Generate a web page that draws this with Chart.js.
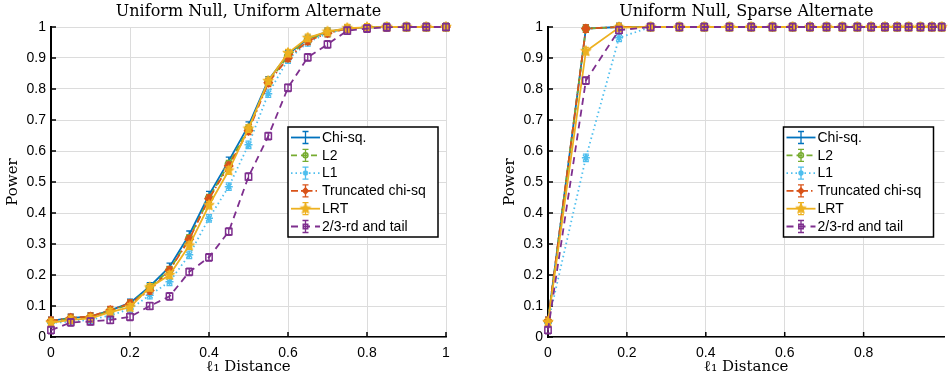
<!DOCTYPE html>
<html>
<head>
<meta charset="utf-8">
<script src="https://cdn.jsdelivr.net/npm/chart.js@4"></script>
<style>
  body { margin: 0; background: #fff; width: 951px; height: 380px; overflow: hidden; position: relative; }
  canvas { position: absolute; top: 0; }
  #left { left: 0; }
  #right { left: 475px; }
</style>
</head>
<body>
<canvas id="left" width="475" height="380"></canvas>
<canvas id="right" width="476" height="380"></canvas>
<script>
// series names (same for both panels)
const seriesNames = ['Chi-sq.', 'L2', 'L1', 'Truncated chi-sq', 'LRT', '2/3-rd and tail'];

// --- left panel: uniform null, uniform alternate ---
const distUniform  = [0, 0.05, 0.1, 0.15, 0.2, 0.25, 0.3, 0.35, 0.4, 0.45, 0.5, 0.55, 0.6, 0.65, 0.7, 0.75, 0.8, 0.85, 0.9, 0.95, 1];
const chiUniform   = [0.052, 0.062, 0.066, 0.086, 0.11, 0.163, 0.226, 0.33, 0.458, 0.568, 0.682, 0.828, 0.912, 0.962, 0.985, 0.995, 0.999, 1, 1, 1, 1];
const l2Uniform    = [0.05, 0.06, 0.064, 0.084, 0.106, 0.16, 0.216, 0.318, 0.448, 0.558, 0.672, 0.822, 0.906, 0.958, 0.983, 0.995, 0.999, 1, 1, 1, 1];
const l1Uniform    = [0.045, 0.05, 0.055, 0.07, 0.09, 0.135, 0.178, 0.265, 0.383, 0.485, 0.62, 0.785, 0.895, 0.95, 0.98, 0.994, 0.999, 1, 1, 1, 1];
const truncUniform = [0.052, 0.062, 0.066, 0.087, 0.108, 0.15, 0.215, 0.315, 0.446, 0.552, 0.665, 0.82, 0.9, 0.955, 0.98, 0.995, 0.999, 1, 1, 1, 1];
const lrtUniform   = [0.046, 0.055, 0.06, 0.08, 0.096, 0.16, 0.2, 0.295, 0.425, 0.537, 0.672, 0.826, 0.916, 0.965, 0.985, 0.996, 0.999, 1, 1, 1, 1];
const tailUniform  = [0.022, 0.047, 0.05, 0.055, 0.065, 0.1, 0.131, 0.21, 0.257, 0.34, 0.517, 0.648, 0.804, 0.902, 0.944, 0.988, 0.995, 0.999, 1, 1, 1];

// --- right panel: uniform null, sparse alternate ---
const distSparse  = [0, 0.096, 0.18, 0.26, 0.333, 0.396, 0.46, 0.515, 0.569, 0.62, 0.664, 0.706, 0.746, 0.784, 0.819, 0.854, 0.885, 0.914, 0.944, 0.973, 0.998];
const chiSparse   = [0.052, 0.995, 1, 1, 1, 1, 1, 1, 1, 1, 1, 1, 1, 1, 1, 1, 1, 1, 1, 1, 1];
const l2Sparse    = [0.05, 0.995, 1, 1, 1, 1, 1, 1, 1, 1, 1, 1, 1, 1, 1, 1, 1, 1, 1, 1, 1];
const l1Sparse    = [0.045, 0.578, 0.965, 1, 1, 1, 1, 1, 1, 1, 1, 1, 1, 1, 1, 1, 1, 1, 1, 1, 1];
const truncSparse = [0.052, 0.995, 1, 1, 1, 1, 1, 1, 1, 1, 1, 1, 1, 1, 1, 1, 1, 1, 1, 1, 1];
const lrtSparse   = [0.048, 0.922, 0.998, 1, 1, 1, 1, 1, 1, 1, 1, 1, 1, 1, 1, 1, 1, 1, 1, 1, 1];
const tailSparse  = [0.022, 0.827, 0.99, 1, 1, 1, 1, 1, 1, 1, 1, 1, 1, 1, 1, 1, 1, 1, 1, 1, 1];

const yTicksStep = 0.1;
const xTicksStep = 0.2;
const errHalf = 0.012;   // half height of the error bars

// styles
const colors = ['#0072BD', '#77AC30', '#4DBEEE', '#D95319', '#EDB120', '#7E2F8E'];
const dashes = [[], [6, 4], [1.5, 3], [7, 3, 1.5, 3], [], [7, 5]];

function starMarker(color, r) {
  const c = document.createElement('canvas');
  const s = Math.ceil(r * 2 + 3);
  c.width = s; c.height = s;
  const g = c.getContext('2d');
  g.beginPath();
  for (let i = 0; i < 10; i++) {
    const rad = i % 2 ? r * 0.45 : r;
    const a = -Math.PI / 2 + i * Math.PI / 5;
    g.lineTo(s / 2 + rad * Math.cos(a), s / 2 + rad * Math.sin(a));
  }
  g.closePath();
  g.fillStyle = color; g.fill();
  g.strokeStyle = color; g.lineWidth = 1; g.stroke();
  return c;
}

const markers = [
  { pointStyle: 'circle', radius: 0, fill: 'transparent' },
  { pointStyle: 'circle', radius: 3.5, fill: 'transparent' },
  { pointStyle: 'star', radius: 4, fill: colors[2] },
  { pointStyle: 'rectRot', radius: 4, fill: colors[3] },
  { pointStyle: starMarker(colors[4], 5.5), radius: 5, fill: colors[4] },
  { pointStyle: 'rect', radius: 4.5, fill: 'transparent' }
];

const tickFont = { family: 'Liberation Sans', size: 14 };
const serifFont = { family: 'DejaVu Serif', size: 15 };
const titleFont = { family: 'DejaVu Serif', size: 16 };

const fmt = v => String(+Number(v).toFixed(2));

// ---- plugins ----
const errorBars = {
  id: 'errorBars',
  afterDatasetDraw(chart, args) {
    const ds = chart.data.datasets[args.index];
    const yScale = chart.scales.y;
    const ctx = chart.ctx;
    ctx.save();
    ctx.strokeStyle = ds.borderColor;
    ctx.lineWidth = 1.3;
    ctx.setLineDash([]);
    args.meta.data.forEach((pt, i) => {
      const v = ds.data[i].y;
      const top = yScale.getPixelForValue(v + errHalf);
      const bot = yScale.getPixelForValue(v - errHalf);
      ctx.beginPath();
      ctx.moveTo(pt.x, top); ctx.lineTo(pt.x, bot);
      ctx.moveTo(pt.x - 3, top); ctx.lineTo(pt.x + 3, top);
      ctx.moveTo(pt.x - 3, bot); ctx.lineTo(pt.x + 3, bot);
      ctx.stroke();
    });
    ctx.restore();
  }
};

const innerTicks = {
  id: 'innerTicks',
  beforeDatasetsDraw(chart) {
    const { ctx, chartArea: a, scales: { x, y } } = chart;
    ctx.save();
    ctx.strokeStyle = '#000';
    ctx.lineWidth = 1.5;
    y.ticks.forEach(t => {
      const p = y.getPixelForValue(t.value);
      ctx.beginPath(); ctx.moveTo(a.left, p); ctx.lineTo(a.left + 5, p); ctx.stroke();
    });
    x.ticks.forEach(t => {
      const p = x.getPixelForValue(t.value);
      ctx.beginPath(); ctx.moveTo(p, a.bottom); ctx.lineTo(p, a.bottom - 5); ctx.stroke();
    });
    ctx.restore();
  }
};

const panelTitle = {
  id: 'panelTitle',
  afterDraw(chart, args, opts) {
    const { ctx, chartArea: a } = chart;
    ctx.save();
    ctx.font = titleFont.size + 'px "' + titleFont.family + '"';
    ctx.fillStyle = '#000';
    ctx.textAlign = 'center';
    ctx.textBaseline = 'middle';
    ctx.fillText(opts.text, (a.left + a.right) / 2, 12);
    ctx.restore();
  }
};

const boxLegend = {
  id: 'boxLegend',
  afterDraw(chart, args, opts) {
    const { ctx, chartArea: a } = chart;
    const w = 150, h = 110;
    const left = a.right - opts.right - w, top = opts.top;
    ctx.save();
    ctx.fillStyle = '#fff';
    ctx.fillRect(left, top, w, h);
    ctx.strokeStyle = '#000';
    ctx.lineWidth = 1.5;
    ctx.strokeRect(left, top, w, h);
    ctx.font = tickFont.size + 'px "' + tickFont.family + '"';
    ctx.textBaseline = 'middle';
    chart.data.datasets.forEach((ds, i) => {
      const y = top + 10.5 + i * 17.8;
      const x0 = left + 3, x1 = left + 32, xm = (x0 + x1) / 2;
      ctx.strokeStyle = ds.borderColor;
      ctx.lineWidth = 1.8;
      ctx.setLineDash(ds.borderDash);
      ctx.beginPath(); ctx.moveTo(x0, y); ctx.lineTo(x1, y); ctx.stroke();
      ctx.setLineDash([]);
      ctx.lineWidth = 1.3;
      ctx.beginPath();
      ctx.moveTo(xm, y - 6); ctx.lineTo(xm, y + 6);
      ctx.moveTo(xm - 3, y - 6); ctx.lineTo(xm + 3, y - 6);
      ctx.moveTo(xm - 3, y + 6); ctx.lineTo(xm + 3, y + 6);
      ctx.stroke();
      const m = markers[i];
      if (m.radius > 0 && Chart.helpers && Chart.helpers.drawPoint) {
        ctx.fillStyle = m.fill;
        ctx.lineWidth = 1.5;
        Chart.helpers.drawPoint(ctx, { pointStyle: m.pointStyle, rotation: 0, radius: m.radius * 0.7, borderWidth: 1.5 }, xm, y);
      }
      ctx.fillStyle = '#000';
      ctx.fillText(seriesNames[i], left + 34, y + 0.5);
    });
    ctx.restore();
  }
};

function buildDatasets(xs, seriesList) {
  return seriesList.map((ys, i) => ({
    label: seriesNames[i],
    data: xs.map((x, k) => ({ x: x, y: ys[k] })),
    borderColor: colors[i],
    borderWidth: 1.8,
    borderDash: dashes[i],
    pointStyle: markers[i].pointStyle,
    pointRadius: markers[i].radius,
    pointBackgroundColor: markers[i].fill,
    pointBorderColor: colors[i],
    pointBorderWidth: 1.5,
    tension: 0,
    clip: false,
    order: seriesList.length - i
  }));
}

function makePanel(id, title, xs, seriesList, xMax, lastTick, pad, legendRight) {
  return new Chart(document.getElementById(id), {
    type: 'line',
    data: { datasets: buildDatasets(xs, seriesList) },
    options: {
      responsive: false,
      animation: false,
      layout: { padding: pad },
      plugins: {
        legend: { display: false },
        tooltip: { enabled: false },
        panelTitle: { text: title },
        boxLegend: { right: legendRight, top: 127 }
      },
      scales: {
        x: {
          type: 'linear', min: 0, max: xMax,
          ticks: { stepSize: xTicksStep, includeBounds: false, padding: 8, font: tickFont, color: '#000', maxRotation: 0, callback: fmt },
          grid: { color: '#dcdcdc', drawTicks: false },
          border: { color: '#000', width: 1.5 },
          title: { display: true, text: 'ℓ₁ Distance', font: serifFont, color: '#000', padding: { top: 0, bottom: 4 } },
          afterBuildTicks(s) { s.ticks = s.ticks.filter(t => t.value <= lastTick + 1e-9); },
          afterFit(s) { s.height = 43; }
        },
        y: {
          min: 0, max: 1,
          ticks: { stepSize: yTicksStep, padding: 5, font: tickFont, color: '#000', callback: fmt },
          grid: { color: '#dcdcdc', drawTicks: false },
          border: { color: '#000', width: 2 },
          title: { display: true, text: 'Power', font: serifFont, color: '#000', padding: { top: 4, bottom: 0 } },
          afterFit(s) { s.width = 51; }
        }
      }
    },
    plugins: [innerTicks, errorBars, panelTitle, boxLegend]
  });
}

makePanel('left', 'Uniform Null, Uniform Alternate', distUniform,
  [chiUniform, l2Uniform, l1Uniform, truncUniform, lrtUniform, tailUniform],
  1, 1, { left: 0, right: 29, top: 27, bottom: 0 }, 8);

makePanel('right', 'Uniform Null, Sparse Alternate', distSparse,
  [chiSparse, l2Sparse, l1Sparse, truncSparse, lrtSparse, tailSparse],
  1.005, 0.8, { left: 22, right: 5, top: 27, bottom: 0 }, 11);
</script>
</body>
</html>
